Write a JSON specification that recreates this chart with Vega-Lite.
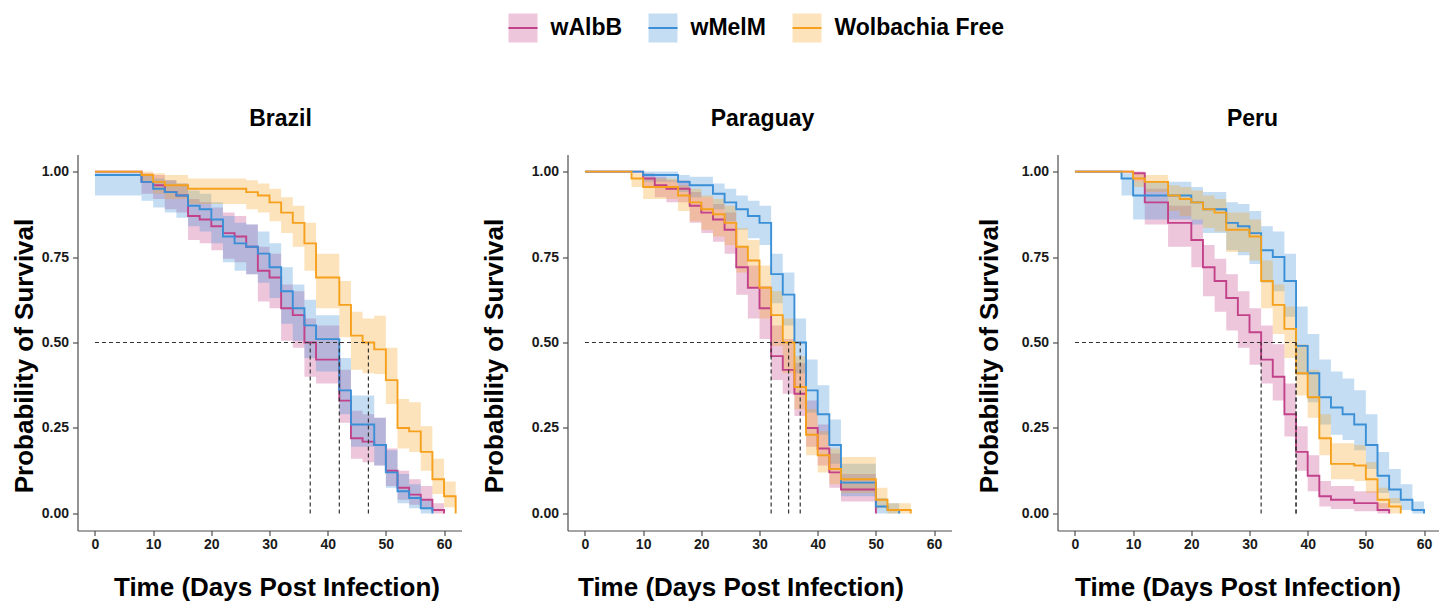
{
  "$schema": "https://vega.github.io/schema/vega-lite/v6.json",
  "background": "white",
  "padding": {"left": 10.5, "top": 12.5, "right": 0, "bottom": 0},
  "spacing": 106,
  "bounds": "flush",
  "config": {
    "view": {"stroke": null},
    "axis": {
      "grid": false,
      "domainColor": "#4d4d4d", "domainWidth": 1.2,
      "tickColor": "#4d4d4d", "tickWidth": 1.2, "tickSize": 5,
      "labelFont": "Liberation Sans", "labelFontSize": 14, "labelFontWeight": "bold", "labelColor": "#1a1a1a",
      "labelFlush": false,
      "titleFont": "Liberation Sans", "titleFontSize": 26, "titleFontWeight": "bold", "titleColor": "#000000",
      "titleBaseline": "alphabetic"
    },
    "axisX": {"labelPadding": 2},
    "axisY": {"labelPadding": 4},
    "title": {"font": "Liberation Sans", "fontSize": 23, "fontWeight": "bold", "color": "#000000", "baseline": "alphabetic", "offset": 24, "frame": "group", "anchor": "middle"}
  },
  "datasets": {
    "km": [
      {"c":"Brazil","g":"wAlbB","t":0,"s":1,"lo":1,"hi":1},
      {"c":"Brazil","g":"wAlbB","t":8,"s":0.97,"lo":0.935,"hi":0.995},
      {"c":"Brazil","g":"wAlbB","t":10,"s":0.96,"lo":0.92,"hi":0.99},
      {"c":"Brazil","g":"wAlbB","t":12,"s":0.94,"lo":0.89,"hi":0.975},
      {"c":"Brazil","g":"wAlbB","t":14,"s":0.93,"lo":0.88,"hi":0.965},
      {"c":"Brazil","g":"wAlbB","t":16,"s":0.87,"lo":0.8,"hi":0.92},
      {"c":"Brazil","g":"wAlbB","t":18,"s":0.86,"lo":0.79,"hi":0.91},
      {"c":"Brazil","g":"wAlbB","t":20,"s":0.84,"lo":0.77,"hi":0.895},
      {"c":"Brazil","g":"wAlbB","t":22,"s":0.82,"lo":0.745,"hi":0.88},
      {"c":"Brazil","g":"wAlbB","t":24,"s":0.81,"lo":0.735,"hi":0.87},
      {"c":"Brazil","g":"wAlbB","t":26,"s":0.78,"lo":0.7,"hi":0.845},
      {"c":"Brazil","g":"wAlbB","t":28,"s":0.71,"lo":0.62,"hi":0.78},
      {"c":"Brazil","g":"wAlbB","t":30,"s":0.69,"lo":0.6,"hi":0.76},
      {"c":"Brazil","g":"wAlbB","t":32,"s":0.6,"lo":0.505,"hi":0.67},
      {"c":"Brazil","g":"wAlbB","t":34,"s":0.58,"lo":0.485,"hi":0.65},
      {"c":"Brazil","g":"wAlbB","t":36,"s":0.5,"lo":0.4,"hi":0.57},
      {"c":"Brazil","g":"wAlbB","t":38,"s":0.45,"lo":0.38,"hi":0.55},
      {"c":"Brazil","g":"wAlbB","t":42,"s":0.33,"lo":0.265,"hi":0.42},
      {"c":"Brazil","g":"wAlbB","t":44,"s":0.22,"lo":0.16,"hi":0.3},
      {"c":"Brazil","g":"wAlbB","t":46,"s":0.21,"lo":0.15,"hi":0.29},
      {"c":"Brazil","g":"wAlbB","t":48,"s":0.2,"lo":0.14,"hi":0.28},
      {"c":"Brazil","g":"wAlbB","t":50,"s":0.125,"lo":0.08,"hi":0.19},
      {"c":"Brazil","g":"wAlbB","t":52,"s":0.075,"lo":0.04,"hi":0.125},
      {"c":"Brazil","g":"wAlbB","t":54,"s":0.055,"lo":0.025,"hi":0.1},
      {"c":"Brazil","g":"wAlbB","t":56,"s":0.04,"lo":0.015,"hi":0.08},
      {"c":"Brazil","g":"wAlbB","t":58,"s":0.01,"lo":0,"hi":0.03},
      {"c":"Brazil","g":"wAlbB","t":60,"s":0,"lo":0,"hi":0},

      {"c":"Brazil","g":"wMelM","t":0,"s":0.99,"lo":0.93,"hi":1},
      {"c":"Brazil","g":"wMelM","t":8,"s":0.97,"lo":0.915,"hi":0.99},
      {"c":"Brazil","g":"wMelM","t":10,"s":0.95,"lo":0.895,"hi":0.98},
      {"c":"Brazil","g":"wMelM","t":12,"s":0.94,"lo":0.88,"hi":0.975},
      {"c":"Brazil","g":"wMelM","t":14,"s":0.93,"lo":0.865,"hi":0.965},
      {"c":"Brazil","g":"wMelM","t":16,"s":0.9,"lo":0.84,"hi":0.945},
      {"c":"Brazil","g":"wMelM","t":18,"s":0.89,"lo":0.825,"hi":0.935},
      {"c":"Brazil","g":"wMelM","t":20,"s":0.86,"lo":0.79,"hi":0.91},
      {"c":"Brazil","g":"wMelM","t":22,"s":0.81,"lo":0.735,"hi":0.87},
      {"c":"Brazil","g":"wMelM","t":24,"s":0.79,"lo":0.71,"hi":0.85},
      {"c":"Brazil","g":"wMelM","t":26,"s":0.78,"lo":0.7,"hi":0.845},
      {"c":"Brazil","g":"wMelM","t":28,"s":0.76,"lo":0.675,"hi":0.825},
      {"c":"Brazil","g":"wMelM","t":30,"s":0.72,"lo":0.63,"hi":0.79},
      {"c":"Brazil","g":"wMelM","t":32,"s":0.65,"lo":0.555,"hi":0.72},
      {"c":"Brazil","g":"wMelM","t":34,"s":0.6,"lo":0.505,"hi":0.67},
      {"c":"Brazil","g":"wMelM","t":36,"s":0.55,"lo":0.455,"hi":0.625},
      {"c":"Brazil","g":"wMelM","t":38,"s":0.51,"lo":0.415,"hi":0.58},
      {"c":"Brazil","g":"wMelM","t":42,"s":0.36,"lo":0.29,"hi":0.455},
      {"c":"Brazil","g":"wMelM","t":44,"s":0.26,"lo":0.195,"hi":0.345},
      {"c":"Brazil","g":"wMelM","t":48,"s":0.2,"lo":0.14,"hi":0.28},
      {"c":"Brazil","g":"wMelM","t":50,"s":0.12,"lo":0.075,"hi":0.185},
      {"c":"Brazil","g":"wMelM","t":52,"s":0.065,"lo":0.03,"hi":0.115},
      {"c":"Brazil","g":"wMelM","t":54,"s":0.045,"lo":0.015,"hi":0.085},
      {"c":"Brazil","g":"wMelM","t":56,"s":0.015,"lo":0,"hi":0.04},
      {"c":"Brazil","g":"wMelM","t":58,"s":0,"lo":0,"hi":0},

      {"c":"Brazil","g":"Wolbachia Free","t":0,"s":1,"lo":1,"hi":1},
      {"c":"Brazil","g":"Wolbachia Free","t":8,"s":0.99,"lo":0.97,"hi":1},
      {"c":"Brazil","g":"Wolbachia Free","t":10,"s":0.97,"lo":0.935,"hi":0.995},
      {"c":"Brazil","g":"Wolbachia Free","t":12,"s":0.96,"lo":0.92,"hi":0.99},
      {"c":"Brazil","g":"Wolbachia Free","t":16,"s":0.95,"lo":0.905,"hi":0.98},
      {"c":"Brazil","g":"Wolbachia Free","t":26,"s":0.94,"lo":0.89,"hi":0.975},
      {"c":"Brazil","g":"Wolbachia Free","t":28,"s":0.93,"lo":0.88,"hi":0.965},
      {"c":"Brazil","g":"Wolbachia Free","t":30,"s":0.91,"lo":0.855,"hi":0.95},
      {"c":"Brazil","g":"Wolbachia Free","t":32,"s":0.88,"lo":0.82,"hi":0.925},
      {"c":"Brazil","g":"Wolbachia Free","t":34,"s":0.85,"lo":0.78,"hi":0.9},
      {"c":"Brazil","g":"Wolbachia Free","t":36,"s":0.79,"lo":0.71,"hi":0.85},
      {"c":"Brazil","g":"Wolbachia Free","t":38,"s":0.69,"lo":0.6,"hi":0.76},
      {"c":"Brazil","g":"Wolbachia Free","t":42,"s":0.61,"lo":0.515,"hi":0.68},
      {"c":"Brazil","g":"Wolbachia Free","t":44,"s":0.52,"lo":0.42,"hi":0.59},
      {"c":"Brazil","g":"Wolbachia Free","t":46,"s":0.5,"lo":0.41,"hi":0.57},
      {"c":"Brazil","g":"Wolbachia Free","t":48,"s":0.48,"lo":0.408,"hi":0.578},
      {"c":"Brazil","g":"Wolbachia Free","t":50,"s":0.39,"lo":0.32,"hi":0.485},
      {"c":"Brazil","g":"Wolbachia Free","t":52,"s":0.25,"lo":0.19,"hi":0.335},
      {"c":"Brazil","g":"Wolbachia Free","t":54,"s":0.24,"lo":0.18,"hi":0.325},
      {"c":"Brazil","g":"Wolbachia Free","t":56,"s":0.18,"lo":0.125,"hi":0.255},
      {"c":"Brazil","g":"Wolbachia Free","t":58,"s":0.1,"lo":0.057,"hi":0.16},
      {"c":"Brazil","g":"Wolbachia Free","t":60,"s":0.05,"lo":0.018,"hi":0.093},
      {"c":"Brazil","g":"Wolbachia Free","t":62,"s":0,"lo":0,"hi":0},

      {"c":"Paraguay","g":"wAlbB","t":0,"s":1,"lo":1,"hi":1},
      {"c":"Paraguay","g":"wAlbB","t":10,"s":0.98,"lo":0.955,"hi":0.995},
      {"c":"Paraguay","g":"wAlbB","t":12,"s":0.96,"lo":0.925,"hi":0.985},
      {"c":"Paraguay","g":"wAlbB","t":14,"s":0.95,"lo":0.91,"hi":0.975},
      {"c":"Paraguay","g":"wAlbB","t":18,"s":0.9,"lo":0.85,"hi":0.94},
      {"c":"Paraguay","g":"wAlbB","t":20,"s":0.88,"lo":0.82,"hi":0.925},
      {"c":"Paraguay","g":"wAlbB","t":22,"s":0.86,"lo":0.795,"hi":0.905},
      {"c":"Paraguay","g":"wAlbB","t":24,"s":0.83,"lo":0.76,"hi":0.88},
      {"c":"Paraguay","g":"wAlbB","t":26,"s":0.72,"lo":0.64,"hi":0.78},
      {"c":"Paraguay","g":"wAlbB","t":28,"s":0.66,"lo":0.57,"hi":0.725},
      {"c":"Paraguay","g":"wAlbB","t":30,"s":0.6,"lo":0.51,"hi":0.665},
      {"c":"Paraguay","g":"wAlbB","t":32,"s":0.46,"lo":0.39,"hi":0.55},
      {"c":"Paraguay","g":"wAlbB","t":34,"s":0.42,"lo":0.35,"hi":0.51},
      {"c":"Paraguay","g":"wAlbB","t":36,"s":0.35,"lo":0.285,"hi":0.44},
      {"c":"Paraguay","g":"wAlbB","t":38,"s":0.25,"lo":0.195,"hi":0.33},
      {"c":"Paraguay","g":"wAlbB","t":40,"s":0.19,"lo":0.14,"hi":0.26},
      {"c":"Paraguay","g":"wAlbB","t":42,"s":0.12,"lo":0.075,"hi":0.175},
      {"c":"Paraguay","g":"wAlbB","t":44,"s":0.07,"lo":0.035,"hi":0.115},
      {"c":"Paraguay","g":"wAlbB","t":50,"s":0,"lo":0,"hi":0},

      {"c":"Paraguay","g":"wMelM","t":0,"s":1,"lo":1,"hi":1},
      {"c":"Paraguay","g":"wMelM","t":10,"s":0.99,"lo":0.97,"hi":1},
      {"c":"Paraguay","g":"wMelM","t":16,"s":0.97,"lo":0.94,"hi":0.99},
      {"c":"Paraguay","g":"wMelM","t":18,"s":0.96,"lo":0.925,"hi":0.985},
      {"c":"Paraguay","g":"wMelM","t":22,"s":0.935,"lo":0.89,"hi":0.965},
      {"c":"Paraguay","g":"wMelM","t":24,"s":0.91,"lo":0.855,"hi":0.95},
      {"c":"Paraguay","g":"wMelM","t":26,"s":0.89,"lo":0.83,"hi":0.93},
      {"c":"Paraguay","g":"wMelM","t":28,"s":0.87,"lo":0.805,"hi":0.915},
      {"c":"Paraguay","g":"wMelM","t":30,"s":0.85,"lo":0.785,"hi":0.9},
      {"c":"Paraguay","g":"wMelM","t":32,"s":0.7,"lo":0.615,"hi":0.76},
      {"c":"Paraguay","g":"wMelM","t":34,"s":0.64,"lo":0.55,"hi":0.705},
      {"c":"Paraguay","g":"wMelM","t":36,"s":0.5,"lo":0.41,"hi":0.57},
      {"c":"Paraguay","g":"wMelM","t":38,"s":0.36,"lo":0.295,"hi":0.45},
      {"c":"Paraguay","g":"wMelM","t":40,"s":0.29,"lo":0.23,"hi":0.375},
      {"c":"Paraguay","g":"wMelM","t":42,"s":0.2,"lo":0.145,"hi":0.275},
      {"c":"Paraguay","g":"wMelM","t":44,"s":0.09,"lo":0.05,"hi":0.145},
      {"c":"Paraguay","g":"wMelM","t":50,"s":0.02,"lo":0,"hi":0.045},
      {"c":"Paraguay","g":"wMelM","t":52,"s":0.01,"lo":0,"hi":0.03},
      {"c":"Paraguay","g":"wMelM","t":54,"s":0,"lo":0,"hi":0},

      {"c":"Paraguay","g":"Wolbachia Free","t":0,"s":1,"lo":1,"hi":1},
      {"c":"Paraguay","g":"Wolbachia Free","t":8,"s":0.98,"lo":0.955,"hi":0.995},
      {"c":"Paraguay","g":"Wolbachia Free","t":10,"s":0.955,"lo":0.92,"hi":0.98},
      {"c":"Paraguay","g":"Wolbachia Free","t":16,"s":0.93,"lo":0.885,"hi":0.96},
      {"c":"Paraguay","g":"Wolbachia Free","t":18,"s":0.91,"lo":0.855,"hi":0.95},
      {"c":"Paraguay","g":"Wolbachia Free","t":20,"s":0.89,"lo":0.83,"hi":0.93},
      {"c":"Paraguay","g":"Wolbachia Free","t":22,"s":0.875,"lo":0.81,"hi":0.92},
      {"c":"Paraguay","g":"Wolbachia Free","t":24,"s":0.85,"lo":0.785,"hi":0.9},
      {"c":"Paraguay","g":"Wolbachia Free","t":26,"s":0.78,"lo":0.705,"hi":0.835},
      {"c":"Paraguay","g":"Wolbachia Free","t":28,"s":0.74,"lo":0.66,"hi":0.8},
      {"c":"Paraguay","g":"Wolbachia Free","t":30,"s":0.66,"lo":0.57,"hi":0.725},
      {"c":"Paraguay","g":"Wolbachia Free","t":32,"s":0.58,"lo":0.49,"hi":0.65},
      {"c":"Paraguay","g":"Wolbachia Free","t":34,"s":0.5,"lo":0.41,"hi":0.57},
      {"c":"Paraguay","g":"Wolbachia Free","t":36,"s":0.37,"lo":0.305,"hi":0.46},
      {"c":"Paraguay","g":"Wolbachia Free","t":38,"s":0.23,"lo":0.17,"hi":0.305},
      {"c":"Paraguay","g":"Wolbachia Free","t":40,"s":0.17,"lo":0.12,"hi":0.24},
      {"c":"Paraguay","g":"Wolbachia Free","t":42,"s":0.13,"lo":0.085,"hi":0.19},
      {"c":"Paraguay","g":"Wolbachia Free","t":44,"s":0.1,"lo":0.06,"hi":0.165},
      {"c":"Paraguay","g":"Wolbachia Free","t":50,"s":0.04,"lo":0.015,"hi":0.075},
      {"c":"Paraguay","g":"Wolbachia Free","t":52,"s":0.01,"lo":0,"hi":0.03},
      {"c":"Paraguay","g":"Wolbachia Free","t":56,"s":0,"lo":0,"hi":0},

      {"c":"Peru","g":"wAlbB","t":0,"s":1,"lo":1,"hi":1},
      {"c":"Peru","g":"wAlbB","t":10,"s":0.995,"lo":0.97,"hi":1},
      {"c":"Peru","g":"wAlbB","t":12,"s":0.91,"lo":0.845,"hi":0.95},
      {"c":"Peru","g":"wAlbB","t":16,"s":0.85,"lo":0.78,"hi":0.9},
      {"c":"Peru","g":"wAlbB","t":20,"s":0.8,"lo":0.72,"hi":0.86},
      {"c":"Peru","g":"wAlbB","t":22,"s":0.72,"lo":0.635,"hi":0.785},
      {"c":"Peru","g":"wAlbB","t":24,"s":0.68,"lo":0.59,"hi":0.745},
      {"c":"Peru","g":"wAlbB","t":26,"s":0.63,"lo":0.535,"hi":0.7},
      {"c":"Peru","g":"wAlbB","t":28,"s":0.58,"lo":0.485,"hi":0.65},
      {"c":"Peru","g":"wAlbB","t":30,"s":0.53,"lo":0.435,"hi":0.6},
      {"c":"Peru","g":"wAlbB","t":32,"s":0.45,"lo":0.38,"hi":0.55},
      {"c":"Peru","g":"wAlbB","t":34,"s":0.4,"lo":0.33,"hi":0.495},
      {"c":"Peru","g":"wAlbB","t":36,"s":0.29,"lo":0.225,"hi":0.38},
      {"c":"Peru","g":"wAlbB","t":38,"s":0.18,"lo":0.125,"hi":0.255},
      {"c":"Peru","g":"wAlbB","t":40,"s":0.11,"lo":0.065,"hi":0.17},
      {"c":"Peru","g":"wAlbB","t":42,"s":0.05,"lo":0.02,"hi":0.095},
      {"c":"Peru","g":"wAlbB","t":44,"s":0.04,"lo":0.013,"hi":0.08},
      {"c":"Peru","g":"wAlbB","t":48,"s":0.03,"lo":0.006,"hi":0.065},
      {"c":"Peru","g":"wAlbB","t":52,"s":0.01,"lo":0,"hi":0.03},
      {"c":"Peru","g":"wAlbB","t":54,"s":0,"lo":0,"hi":0},

      {"c":"Peru","g":"wMelM","t":0,"s":1,"lo":1,"hi":1},
      {"c":"Peru","g":"wMelM","t":8,"s":0.98,"lo":0.93,"hi":0.995},
      {"c":"Peru","g":"wMelM","t":10,"s":0.93,"lo":0.86,"hi":0.97},
      {"c":"Peru","g":"wMelM","t":20,"s":0.91,"lo":0.845,"hi":0.955},
      {"c":"Peru","g":"wMelM","t":22,"s":0.89,"lo":0.82,"hi":0.94},
      {"c":"Peru","g":"wMelM","t":26,"s":0.85,"lo":0.77,"hi":0.91},
      {"c":"Peru","g":"wMelM","t":28,"s":0.84,"lo":0.755,"hi":0.905},
      {"c":"Peru","g":"wMelM","t":30,"s":0.82,"lo":0.73,"hi":0.885},
      {"c":"Peru","g":"wMelM","t":32,"s":0.77,"lo":0.675,"hi":0.84},
      {"c":"Peru","g":"wMelM","t":34,"s":0.75,"lo":0.65,"hi":0.825},
      {"c":"Peru","g":"wMelM","t":36,"s":0.68,"lo":0.575,"hi":0.76},
      {"c":"Peru","g":"wMelM","t":38,"s":0.49,"lo":0.405,"hi":0.605},
      {"c":"Peru","g":"wMelM","t":40,"s":0.41,"lo":0.325,"hi":0.525},
      {"c":"Peru","g":"wMelM","t":42,"s":0.34,"lo":0.26,"hi":0.45},
      {"c":"Peru","g":"wMelM","t":44,"s":0.31,"lo":0.23,"hi":0.415},
      {"c":"Peru","g":"wMelM","t":46,"s":0.29,"lo":0.215,"hi":0.395},
      {"c":"Peru","g":"wMelM","t":48,"s":0.26,"lo":0.185,"hi":0.36},
      {"c":"Peru","g":"wMelM","t":50,"s":0.2,"lo":0.13,"hi":0.29},
      {"c":"Peru","g":"wMelM","t":52,"s":0.11,"lo":0.06,"hi":0.18},
      {"c":"Peru","g":"wMelM","t":54,"s":0.07,"lo":0.03,"hi":0.13},
      {"c":"Peru","g":"wMelM","t":56,"s":0.04,"lo":0.01,"hi":0.085},
      {"c":"Peru","g":"wMelM","t":58,"s":0.01,"lo":0,"hi":0.035},
      {"c":"Peru","g":"wMelM","t":60,"s":0,"lo":0,"hi":0},

      {"c":"Peru","g":"Wolbachia Free","t":0,"s":1,"lo":1,"hi":1},
      {"c":"Peru","g":"Wolbachia Free","t":10,"s":0.98,"lo":0.955,"hi":0.995},
      {"c":"Peru","g":"Wolbachia Free","t":12,"s":0.97,"lo":0.94,"hi":0.99},
      {"c":"Peru","g":"Wolbachia Free","t":16,"s":0.93,"lo":0.885,"hi":0.96},
      {"c":"Peru","g":"Wolbachia Free","t":18,"s":0.92,"lo":0.87,"hi":0.955},
      {"c":"Peru","g":"Wolbachia Free","t":20,"s":0.91,"lo":0.86,"hi":0.945},
      {"c":"Peru","g":"Wolbachia Free","t":22,"s":0.89,"lo":0.835,"hi":0.93},
      {"c":"Peru","g":"Wolbachia Free","t":24,"s":0.88,"lo":0.825,"hi":0.92},
      {"c":"Peru","g":"Wolbachia Free","t":26,"s":0.83,"lo":0.765,"hi":0.88},
      {"c":"Peru","g":"Wolbachia Free","t":30,"s":0.81,"lo":0.74,"hi":0.86},
      {"c":"Peru","g":"Wolbachia Free","t":32,"s":0.68,"lo":0.6,"hi":0.74},
      {"c":"Peru","g":"Wolbachia Free","t":34,"s":0.61,"lo":0.525,"hi":0.67},
      {"c":"Peru","g":"Wolbachia Free","t":36,"s":0.54,"lo":0.455,"hi":0.605},
      {"c":"Peru","g":"Wolbachia Free","t":38,"s":0.41,"lo":0.345,"hi":0.495},
      {"c":"Peru","g":"Wolbachia Free","t":40,"s":0.34,"lo":0.28,"hi":0.42},
      {"c":"Peru","g":"Wolbachia Free","t":42,"s":0.22,"lo":0.17,"hi":0.29},
      {"c":"Peru","g":"Wolbachia Free","t":44,"s":0.145,"lo":0.1,"hi":0.205},
      {"c":"Peru","g":"Wolbachia Free","t":48,"s":0.14,"lo":0.095,"hi":0.2},
      {"c":"Peru","g":"Wolbachia Free","t":50,"s":0.1,"lo":0.06,"hi":0.15},
      {"c":"Peru","g":"Wolbachia Free","t":52,"s":0.04,"lo":0.015,"hi":0.075},
      {"c":"Peru","g":"Wolbachia Free","t":54,"s":0.02,"lo":0,"hi":0.045},
      {"c":"Peru","g":"Wolbachia Free","t":56,"s":0,"lo":0,"hi":0}
    ],
    "med": [
      {"c":"Brazil","g":"wAlbB","m":37,"y0":0,"y1":0.5},
      {"c":"Brazil","g":"wMelM","m":42,"y0":0,"y1":0.5},
      {"c":"Brazil","g":"Wolbachia Free","m":47,"y0":0,"y1":0.5},
      {"c":"Paraguay","g":"wAlbB","m":32,"y0":0,"y1":0.5},
      {"c":"Paraguay","g":"Wolbachia Free","m":35,"y0":0,"y1":0.5},
      {"c":"Paraguay","g":"wMelM","m":37,"y0":0,"y1":0.5},
      {"c":"Peru","g":"wAlbB","m":32,"y0":0,"y1":0.5},
      {"c":"Peru","g":"wMelM","m":38,"y0":0,"y1":0.5},
      {"c":"Peru","g":"Wolbachia Free","m":38,"y0":0,"y1":0.5}
    ],
    "hl": [
      {"c":"Brazil","x0":0,"x1":47,"yv":0.5},
      {"c":"Paraguay","x0":0,"x1":37,"yv":0.5},
      {"c":"Peru","x0":0,"x1":38,"yv":0.5}
    ]
  },
  "hconcat": [
    {
      "width": 384, "height": 376,
      "title": {"text": "Brazil", "dx": 11},
      "layer": [
        {
          "data": {"name": "km"},
          "transform": [{"filter": "datum.c === 'Brazil'"}],
          "mark": {"type": "area", "interpolate": "step-after"},
          "encoding": {
            "x": {"field": "t", "type": "quantitative", "scale": {"domain": [-3, 63], "nice": false, "zero": false},
                  "axis": {"values": [0, 10, 20, 30, 40, 50, 60], "title": "Time (Days Post Infection)", "titleX": 199, "titleY": 65}},
            "y": {"field": "lo", "type": "quantitative", "scale": {"domain": [-0.05, 1.05], "nice": false, "zero": false},
                  "axis": {"values": [0, 0.25, 0.5, 0.75, 1], "format": ".2f", "title": "Probability of Survival", "titleX": -45.5, "titleY": 201}},
            "y2": {"field": "hi"},
            "fill": {"field": "g", "type": "nominal",
                     "scale": {"domain": ["wAlbB", "wMelM", "Wolbachia Free"], "range": ["rgba(194,66,138,0.3)", "rgba(58,143,214,0.3)", "rgba(245,161,29,0.3)"]},
                     "legend": {"title": null, "orient": "none", "legendX": 430, "legendY": -142, "direction": "horizontal",
                                "symbolType": "M-1,0L1,0L1,-1L-1,-1L-1,1L1,1L1,0", "symbolSize": 841, "symbolStrokeWidth": 2, "symbolDash": [29, 400],
                                "labelFont": "Liberation Sans", "labelFontSize": 23, "labelFontWeight": "bold", "labelColor": "#000000", "labelLimit": 0,
                                "labelOffset": 12, "columnPadding": 22, "padding": 0}}
          }
        },
        {
          "data": {"name": "km"},
          "transform": [{"filter": "datum.c === 'Brazil'"}],
          "mark": {"type": "line", "interpolate": "step-after", "strokeWidth": 1.9},
          "encoding": {
            "x": {"field": "t", "type": "quantitative"},
            "y": {"field": "s", "type": "quantitative"},
            "stroke": {"field": "g", "type": "nominal",
                       "scale": {"domain": ["wAlbB", "wMelM", "Wolbachia Free"], "range": ["#c2428a", "#3a8fd6", "#f5a11d"]},
                       "legend": {"title": null, "orient": "none", "legendX": 430, "legendY": -142, "direction": "horizontal",
                                  "symbolType": "M-1,0L1,0L1,-1L-1,-1L-1,1L1,1L1,0", "symbolSize": 841, "symbolStrokeWidth": 2, "symbolDash": [29, 400],
                                  "labelFont": "Liberation Sans", "labelFontSize": 23, "labelFontWeight": "bold", "labelColor": "#000000", "labelLimit": 0,
                                  "labelOffset": 12, "columnPadding": 22, "padding": 0}}
          }
        },
        {
          "data": {"name": "hl"},
          "transform": [{"filter": "datum.c === 'Brazil'"}],
          "mark": {"type": "rule", "strokeDash": [4, 3], "color": "#333333", "strokeWidth": 1.2},
          "encoding": {"x": {"field": "x0", "type": "quantitative"}, "x2": {"field": "x1"}, "y": {"field": "yv", "type": "quantitative"}}
        },
        {
          "data": {"name": "med"},
          "transform": [{"filter": "datum.c === 'Brazil'"}],
          "mark": {"type": "rule", "strokeDash": [4, 3], "color": "#333333", "strokeWidth": 1.2},
          "encoding": {"x": {"field": "m", "type": "quantitative"}, "y": {"field": "y0", "type": "quantitative"}, "y2": {"field": "y1"}}
        }
      ]
    },
    {
      "width": 384, "height": 376,
      "title": {"text": "Paraguay", "dx": 3},
      "layer": [
        {
          "data": {"name": "km"},
          "transform": [{"filter": "datum.c === 'Paraguay'"}],
          "mark": {"type": "area", "interpolate": "step-after"},
          "encoding": {
            "x": {"field": "t", "type": "quantitative", "scale": {"domain": [-3, 63], "nice": false, "zero": false},
                  "axis": {"values": [0, 10, 20, 30, 40, 50, 60], "title": "Time (Days Post Infection)", "titleX": 173, "titleY": 65}},
            "y": {"field": "lo", "type": "quantitative", "scale": {"domain": [-0.05, 1.05], "nice": false, "zero": false},
                  "axis": {"values": [0, 0.25, 0.5, 0.75, 1], "format": ".2f", "title": "Probability of Survival", "titleX": -65, "titleY": 201}},
            "y2": {"field": "hi"},
            "fill": {"field": "g", "type": "nominal",
                     "scale": {"domain": ["wAlbB", "wMelM", "Wolbachia Free"], "range": ["rgba(194,66,138,0.3)", "rgba(58,143,214,0.3)", "rgba(245,161,29,0.3)"]},
                     "legend": {"title": null, "orient": "none", "legendX": 430, "legendY": -142, "direction": "horizontal",
                                "symbolType": "M-1,0L1,0L1,-1L-1,-1L-1,1L1,1L1,0", "symbolSize": 841, "symbolStrokeWidth": 2, "symbolDash": [29, 400],
                                "labelFont": "Liberation Sans", "labelFontSize": 23, "labelFontWeight": "bold", "labelColor": "#000000", "labelLimit": 0,
                                "labelOffset": 12, "columnPadding": 22, "padding": 0}}
          }
        },
        {
          "data": {"name": "km"},
          "transform": [{"filter": "datum.c === 'Paraguay'"}],
          "mark": {"type": "line", "interpolate": "step-after", "strokeWidth": 1.9},
          "encoding": {
            "x": {"field": "t", "type": "quantitative"},
            "y": {"field": "s", "type": "quantitative"},
            "stroke": {"field": "g", "type": "nominal",
                       "scale": {"domain": ["wAlbB", "wMelM", "Wolbachia Free"], "range": ["#c2428a", "#3a8fd6", "#f5a11d"]},
                       "legend": {"title": null, "orient": "none", "legendX": 430, "legendY": -142, "direction": "horizontal",
                                  "symbolType": "M-1,0L1,0L1,-1L-1,-1L-1,1L1,1L1,0", "symbolSize": 841, "symbolStrokeWidth": 2, "symbolDash": [29, 400],
                                  "labelFont": "Liberation Sans", "labelFontSize": 23, "labelFontWeight": "bold", "labelColor": "#000000", "labelLimit": 0,
                                  "labelOffset": 12, "columnPadding": 22, "padding": 0}}
          }
        },
        {
          "data": {"name": "hl"},
          "transform": [{"filter": "datum.c === 'Paraguay'"}],
          "mark": {"type": "rule", "strokeDash": [4, 3], "color": "#333333", "strokeWidth": 1.2},
          "encoding": {"x": {"field": "x0", "type": "quantitative"}, "x2": {"field": "x1"}, "y": {"field": "yv", "type": "quantitative"}}
        },
        {
          "data": {"name": "med"},
          "transform": [{"filter": "datum.c === 'Paraguay'"}],
          "mark": {"type": "rule", "strokeDash": [4, 3], "color": "#333333", "strokeWidth": 1.2},
          "encoding": {"x": {"field": "m", "type": "quantitative"}, "y": {"field": "y0", "type": "quantitative"}, "y2": {"field": "y1"}}
        }
      ]
    },
    {
      "width": 384, "height": 376,
      "title": {"text": "Peru", "dx": 3},
      "layer": [
        {
          "data": {"name": "km"},
          "transform": [{"filter": "datum.c === 'Peru'"}],
          "mark": {"type": "area", "interpolate": "step-after"},
          "encoding": {
            "x": {"field": "t", "type": "quantitative", "scale": {"domain": [-3, 63], "nice": false, "zero": false},
                  "axis": {"values": [0, 10, 20, 30, 40, 50, 60], "title": "Time (Days Post Infection)", "titleX": 180, "titleY": 65}},
            "y": {"field": "lo", "type": "quantitative", "scale": {"domain": [-0.05, 1.05], "nice": false, "zero": false},
                  "axis": {"values": [0, 0.25, 0.5, 0.75, 1], "format": ".2f", "title": "Probability of Survival", "titleX": -60, "titleY": 201}},
            "y2": {"field": "hi"},
            "fill": {"field": "g", "type": "nominal",
                     "scale": {"domain": ["wAlbB", "wMelM", "Wolbachia Free"], "range": ["rgba(194,66,138,0.3)", "rgba(58,143,214,0.3)", "rgba(245,161,29,0.3)"]},
                     "legend": {"title": null, "orient": "none", "legendX": 430, "legendY": -142, "direction": "horizontal",
                                "symbolType": "M-1,0L1,0L1,-1L-1,-1L-1,1L1,1L1,0", "symbolSize": 841, "symbolStrokeWidth": 2, "symbolDash": [29, 400],
                                "labelFont": "Liberation Sans", "labelFontSize": 23, "labelFontWeight": "bold", "labelColor": "#000000", "labelLimit": 0,
                                "labelOffset": 12, "columnPadding": 22, "padding": 0}}
          }
        },
        {
          "data": {"name": "km"},
          "transform": [{"filter": "datum.c === 'Peru'"}],
          "mark": {"type": "line", "interpolate": "step-after", "strokeWidth": 1.9},
          "encoding": {
            "x": {"field": "t", "type": "quantitative"},
            "y": {"field": "s", "type": "quantitative"},
            "stroke": {"field": "g", "type": "nominal",
                       "scale": {"domain": ["wAlbB", "wMelM", "Wolbachia Free"], "range": ["#c2428a", "#3a8fd6", "#f5a11d"]},
                       "legend": {"title": null, "orient": "none", "legendX": 430, "legendY": -142, "direction": "horizontal",
                                  "symbolType": "M-1,0L1,0L1,-1L-1,-1L-1,1L1,1L1,0", "symbolSize": 841, "symbolStrokeWidth": 2, "symbolDash": [29, 400],
                                  "labelFont": "Liberation Sans", "labelFontSize": 23, "labelFontWeight": "bold", "labelColor": "#000000", "labelLimit": 0,
                                  "labelOffset": 12, "columnPadding": 22, "padding": 0}}
          }
        },
        {
          "data": {"name": "hl"},
          "transform": [{"filter": "datum.c === 'Peru'"}],
          "mark": {"type": "rule", "strokeDash": [4, 3], "color": "#333333", "strokeWidth": 1.2},
          "encoding": {"x": {"field": "x0", "type": "quantitative"}, "x2": {"field": "x1"}, "y": {"field": "yv", "type": "quantitative"}}
        },
        {
          "data": {"name": "med"},
          "transform": [{"filter": "datum.c === 'Peru'"}],
          "mark": {"type": "rule", "strokeDash": [4, 3], "color": "#333333", "strokeWidth": 1.2},
          "encoding": {"x": {"field": "m", "type": "quantitative"}, "y": {"field": "y0", "type": "quantitative"}, "y2": {"field": "y1"}}
        }
      ]
    }
  ]
}
